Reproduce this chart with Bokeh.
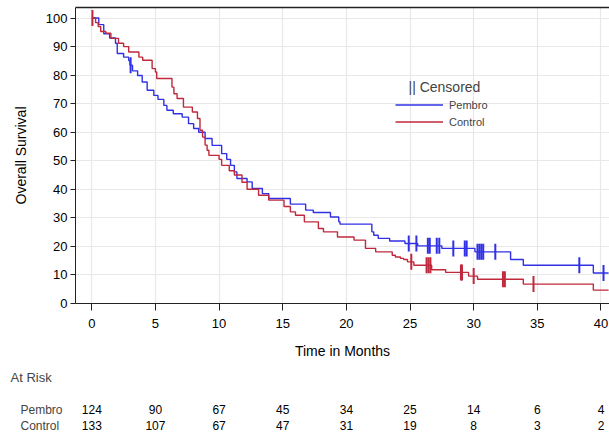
import numpy as np
from bokeh.plotting import figure
from bokeh.layouts import column
from bokeh.models import (Range1d, LinearAxis, Label, Legend, LegendItem,
                          FixedTicker, ColumnDataSource)
from bokeh.core.properties import value
from bokeh.embed import file_html
from bokeh.resources import INLINE

# Kaplan-Meier overall survival (%) - value after each step, time in months
pembro_time = [0, 0.55, 0.94, 1.4, 1.86, 2.0, 2.5, 2.9, 3.0, 3.2, 3.6, 3.96, 4.35,
               4.87, 5.2, 5.66, 5.9, 6.4, 7.1, 7.6, 8.0, 8.4, 8.9, 9.45, 10.2, 10.6,
               10.9, 11.2, 11.4, 12.2, 12.6, 13.4, 13.9, 15.6, 16.8, 17.4, 18.75,
               19.4, 19.5, 22.0, 22.15, 22.5, 23.4, 24.6, 25.6, 27.5, 30.1, 32.9,
               33.9, 39.4, 40.6]
pembro_surv = [100, 97.7, 94.5, 93.0, 91.2, 87.6, 86.3, 85.1, 83.5, 81.5, 79.9, 77.6,
               74.7, 72.9, 71.5, 69.4, 67.7, 66.5, 65.3, 63.0, 61.3, 60.0, 57.8, 55.4,
               52.5, 50.5, 48.4, 46.1, 43.8, 42.6, 40.3, 38.5, 36.8, 34.8, 32.7, 31.9,
               30.3, 28.6, 27.8, 25.1, 23.9, 22.8, 21.9, 21.0, 20.2, 19.3, 18.1, 15.4,
               13.4, 10.7, 10.7]

control_time = [0, 0.3, 0.5, 0.7, 1.1, 1.5, 2.1, 2.5, 2.9, 3.7, 4.0, 4.74, 5.0, 5.1,
                6.3, 6.45, 6.7, 7.2, 7.9, 8.3, 8.5, 8.7, 8.9, 9.06, 9.2, 10.0, 10.2,
                10.8, 11.2, 11.8, 12.2, 13.1, 13.9, 15.1, 15.6, 16.0, 16.7, 17.8, 18.2,
                19.3, 20.6, 21.5, 22.3, 23.6, 23.85, 24.25, 24.5, 24.8, 25.3, 26.7,
                27.8, 29.6, 30.3, 33.9, 39.4, 40.6]
control_surv = [100, 98.4, 97.0, 95.3, 94.7, 92.9, 91.2, 90.0, 88.1, 86.3, 85.2, 82.3,
                81.1, 78.8, 75.8, 73.5, 71.8, 68.8, 67.1, 64.8, 60.7, 58.3, 55.5, 53.7,
                51.9, 50.5, 48.4, 46.5, 45.0, 42.5, 40.0, 37.9, 36.2, 34.0, 32.1, 30.9,
                28.6, 26.3, 25.1, 23.3, 22.2, 19.3, 18.1, 16.9, 16.3, 15.8, 15.4, 14.6,
                13.4, 11.8, 10.9, 9.6, 8.5, 6.8, 4.7, 4.7]

# censoring times (months)
pembro_censor = [3.05, 24.9, 25.5, 26.4, 26.55, 27.1, 27.3, 28.4, 29.3, 29.45, 30.3,
                 30.45, 30.6, 30.75, 31.7, 38.3, 40.2]
control_censor = [0.05, 25.1, 26.3, 26.45, 26.6, 29.0, 29.08, 30.0, 32.3, 32.45, 34.7]

# number at risk table
month_ticks = [0, 5, 10, 15, 20, 25, 30, 35, 40]
risk_pembro = [124, 90, 67, 45, 34, 25, 14, 6, 4]
risk_control = [133, 107, 67, 47, 31, 19, 8, 3, 2]
surv_ticks = [0, 10, 20, 30, 40, 50, 60, 70, 80, 90, 100]

BLUE = "#3030e6"
RED = "#c0283c"
FONT = "Liberation Sans"

W = 609
H_PLOT, H_TABLE = 365, 70
LEFT, TOP, BOTTOM = 75, 7, 62
X_START, X_END = -1.28, 40.67
Y_MAX = 103.7


def surv_at(times, surv, t):
    idx = np.searchsorted(np.asarray(times), np.asarray(t), side="right") - 1
    return list(np.asarray(surv)[idx])


p = figure(width=W, height=H_PLOT, output_backend="svg", toolbar_location=None,
           x_range=Range1d(X_START, X_END), y_range=Range1d(0, Y_MAX),
           min_border_left=LEFT, min_border_right=0, min_border_top=TOP,
           min_border_bottom=BOTTOM)
p.frame_align = False
p.outline_line_color = None
p.background_fill_color = "white"
p.border_fill_color = "white"

r_p = p.step(pembro_time, pembro_surv, mode="after", line_color=BLUE, line_width=1.4)
r_c = p.step(control_time, control_surv, mode="after", line_color=RED, line_width=1.4)

cs_p = ColumnDataSource(dict(x=pembro_censor,
                             y=surv_at(pembro_time, pembro_surv, pembro_censor)))
cs_c = ColumnDataSource(dict(x=control_censor,
                             y=surv_at(control_time, control_surv, control_censor)))
p.scatter("x", "y", source=cs_p, marker="dash", angle=np.pi / 2, size=16,
          line_color=BLUE, line_width=2)
p.scatter("x", "y", source=cs_c, marker="dash", angle=np.pi / 2, size=16,
          line_color=RED, line_width=2)

# axes
for ax in (p.xaxis[0], p.yaxis[0]):
    ax.axis_line_color = "#222222"
    ax.major_tick_line_color = "#222222"
    ax.minor_tick_line_color = None
    ax.major_tick_in = 0
    ax.major_label_text_font = FONT
    ax.major_label_text_font_size = "13px"
    ax.major_label_text_color = "black"
    ax.axis_label_text_font = FONT
    ax.axis_label_text_font_size = "14px"
    ax.axis_label_text_font_style = "normal"
    ax.axis_label_text_color = "black"

p.xaxis.ticker = FixedTicker(ticks=month_ticks)
p.xaxis.major_tick_out = 7
p.xaxis.major_label_standoff = 8
p.xaxis.axis_label = "Time in Months"
p.xaxis.axis_label_standoff = 12

p.yaxis.ticker = FixedTicker(ticks=surv_ticks)
p.yaxis.major_tick_out = 5
p.yaxis.major_label_standoff = 3
p.yaxis.axis_label = "Overall Survival"
p.yaxis.axis_label_standoff = 14

top_axis = LinearAxis(ticker=FixedTicker(ticks=[]), major_label_text_font_size="0px",
                      axis_line_color="#222222", axis_line_width=1.5,
                      major_tick_out=0, minor_tick_out=0)
p.add_layout(top_axis, "above")

p.xgrid.ticker = FixedTicker(ticks=month_ticks)
p.ygrid.ticker = FixedTicker(ticks=surv_ticks)
p.grid.grid_line_color = "#e8e8e8"
p.grid.grid_line_width = 1.2

# legend
legend = Legend(items=[LegendItem(label="Pembro", renderers=[r_p]),
                       LegendItem(label="Control", renderers=[r_c])],
                location=(320, 173), orientation="vertical",
                glyph_width=48, glyph_height=17, label_height=17,
                label_standoff=6, padding=0, margin=0, spacing=0,
                border_line_color=None, background_fill_alpha=0,
                label_text_font=FONT, label_text_font_size="11px")
p.add_layout(legend)
p.add_layout(Label(x=333, x_units="screen", y=75.7, text="|| Censored",
                   text_font=FONT, text_font_size="14px", text_baseline="middle",
                   text_align="left"))

# number-at-risk table, on the same month scale as the plot above
px_per_month = (W - LEFT) / (X_END - X_START)
t = figure(width=W, height=H_TABLE, output_backend="svg", toolbar_location=None,
           x_range=Range1d(X_START - LEFT / px_per_month, X_END),
           y_range=Range1d(0, H_TABLE), x_axis_type=None, y_axis_type=None,
           min_border_left=0, min_border_right=0, min_border_top=0,
           min_border_bottom=0)
t.frame_align = False
t.outline_line_color = None
t.grid.visible = False
t.border_fill_color = "white"

rows = [("Pembro", risk_pembro, 26), ("Control", risk_control, 10)]
t.add_layout(Label(x=10, x_units="screen", y=58, text="At Risk",
                   text_font=FONT, text_font_size="13px", text_baseline="middle"))
for name, counts, row in rows:
    t.add_layout(Label(x=20, x_units="screen", y=row, text=name,
                       text_font=FONT, text_font_size="12px", text_baseline="middle"))
    src = ColumnDataSource(dict(x=month_ticks, y=[row] * len(counts),
                                n=[str(c) for c in counts]))
    t.text("x", "y", text="n", source=src, text_font=value(FONT),
           text_font_size="12px", text_align="center", text_baseline="middle",
           text_color="black")

open("out.html", "w").write(file_html(column(p, t), INLINE))
